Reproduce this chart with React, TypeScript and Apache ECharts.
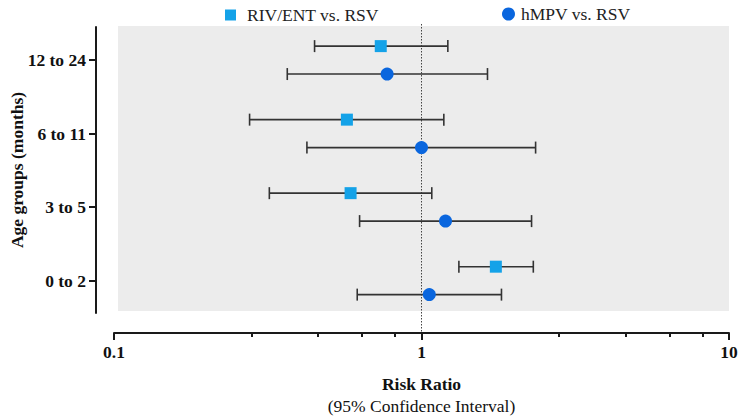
import { useEffect, useRef } from 'react';
import * as echarts from 'echarts';

// Age groups, bottom to top
const ageGroups = ['0 to 2', '3 to 5', '6 to 11', '12 to 24'];

// RIV/ENT vs. RSV: risk ratio with 95% CI
const rivEntRR = [1.745, 0.588, 0.572, 0.737];
const rivEntLow = [1.323, 0.32, 0.276, 0.449];
const rivEntHigh = [2.31, 1.08, 1.182, 1.218];

// hMPV vs. RSV: risk ratio with 95% CI
const hmpvRR = [1.06, 1.197, 1.0, 0.773];
const hmpvLow = [0.618, 0.629, 0.424, 0.366];
const hmpvHigh = [1.82, 2.28, 2.35, 1.639];

// Axis ticks
const majorTicks = [0.1, 1, 10];
const minorTicks = [0.28, 0.46, 0.64, 0.82, 2.8, 4.6, 6.4, 8.2];
const groupTicks = [0, 1, 2, 3];
const referenceRR = 1;

const FONT = '"Liberation Serif", "Times New Roman", serif';
const AXIS_COLOR = '#1a1a1a';
const BAR_COLOR = '#333333';
const RIV_COLOR = '#14a2e8';
const HMPV_COLOR = '#0a66de';
const ROW_SHIFT = 0.19;

const errorBar = (params: any, api: any) => {
  const y = api.value(2);
  const a = api.coord([api.value(0), y]);
  const b = api.coord([api.value(1), y]);
  const cap = 6;
  const style = { stroke: BAR_COLOR, lineWidth: 1.6 };
  return {
    type: 'group',
    children: [
      { type: 'line', shape: { x1: a[0], y1: a[1], x2: b[0], y2: b[1] }, style },
      { type: 'line', shape: { x1: a[0], y1: a[1] - cap, x2: a[0], y2: a[1] + cap }, style },
      { type: 'line', shape: { x1: b[0], y1: b[1] - cap, x2: b[0], y2: b[1] + cap }, style },
    ],
  };
};

const referenceLine = (params: any, api: any) => {
  const cs = params.coordSys;
  const x = api.coord([api.value(0), 0])[0];
  return {
    type: 'line',
    shape: { x1: x, y1: cs.y - 3, x2: x, y2: cs.y + cs.height + 20 },
    style: { stroke: '#444', lineWidth: 1, lineDash: [1.5, 1.5] },
  };
};

export default function App() {
  const ref = useRef<HTMLDivElement>(null);

  useEffect(() => {
    if (!ref.current) return;
    const chart = echarts.init(ref.current, null, { renderer: 'svg' });

    const rivPoints = rivEntRR.map((v, i) => [v, i + ROW_SHIFT]);
    const hmpvPoints = hmpvRR.map((v, i) => [v, i - ROW_SHIFT]);
    const rivBars = rivEntRR.map((_, i) => [rivEntLow[i], rivEntHigh[i], i + ROW_SHIFT]);
    const hmpvBars = hmpvRR.map((_, i) => [hmpvLow[i], hmpvHigh[i], i - ROW_SHIFT]);

    const labelStyle = { fontFamily: FONT, fontSize: 17.5, fontWeight: 'bold', color: '#111' };

    chart.setOption({
      animation: false,
      textStyle: { fontFamily: FONT },
      graphic: [
        {
          type: 'rect',
          z: -10,
          shape: { x: 118, y: 26, width: 611, height: 285 },
          style: { fill: '#ececec' },
          silent: true,
        },
      ],
      legend: [
        {
          data: ['RIV/ENT vs. RSV'],
          left: 220,
          top: 1,
          itemWidth: 11,
          itemHeight: 11,
          textStyle: { fontFamily: FONT, fontSize: 17.5, color: '#222', padding: [0, 0, 0, 6] },
        },
        {
          data: ['hMPV vs. RSV'],
          left: 497,
          top: 0,
          itemWidth: 13,
          itemHeight: 13,
          textStyle: { fontFamily: FONT, fontSize: 17.5, color: '#222', padding: [0, 0, 0, 1] },
        },
      ],
      grid: { left: 114, right: 13, top: 27, bottom: 106, containLabel: false, outerBoundsMode: 'none' },
      xAxis: [
        {
          type: 'log',
          logBase: 10,
          min: 0.1,
          max: 10,
          position: 'bottom',
          offset: 20,
          name: '{a|Risk Ratio}\n{b|(95% Confidence Interval)}',
          nameLocation: 'middle',
          nameGap: 40,
          nameMoveOverlap: false,
          nameTextStyle: {
            rich: {
              a: { fontFamily: FONT, fontSize: 17.5, fontWeight: 'bold', color: '#111', lineHeight: 22 },
              b: { fontFamily: FONT, fontSize: 17.5, color: '#111', lineHeight: 22 },
            },
          },
          axisLine: { show: true, onZero: false, lineStyle: { color: AXIS_COLOR, width: 2 } },
          axisTick: { show: true, customValues: majorTicks, length: 7, lineStyle: { color: AXIS_COLOR, width: 2 } },
          axisLabel: {
            customValues: majorTicks,
            margin: 10,
            ...labelStyle,
            formatter: (v: number) => String(+Number(v).toPrecision(3)),
          },
          splitLine: { show: false },
          minorTick: { show: false },
        },
        {
          type: 'log',
          logBase: 10,
          min: 0.1,
          max: 10,
          position: 'bottom',
          offset: 20,
          axisLine: { show: false, onZero: false },
          axisTick: { show: true, customValues: minorTicks, length: 4, lineStyle: { color: AXIS_COLOR, width: 2 } },
          axisLabel: { show: false },
          splitLine: { show: false },
        },
      ],
      yAxis: {
        type: 'value',
        min: -0.44,
        max: 3.45,
        offset: 18,
        name: 'Age groups (months)',
        nameLocation: 'middle',
        nameGap: 70,
        nameMoveOverlap: false,
        nameTextStyle: { fontFamily: FONT, fontSize: 17.5, fontWeight: 'bold', color: '#111' },
        axisLine: { show: true, onZero: false, lineStyle: { color: AXIS_COLOR, width: 2 } },
        axisTick: { show: true, customValues: groupTicks, length: 7, lineStyle: { color: AXIS_COLOR, width: 2 } },
        axisLabel: {
          customValues: groupTicks,
          margin: 10,
          ...labelStyle,
          formatter: (v: number) => ageGroups[Math.round(v)] ?? '',
        },
        splitLine: { show: false },
      },
      series: [
        {
          type: 'custom',
          name: 'reference',
          renderItem: referenceLine,
          data: [[referenceRR, 0]],
          encode: { x: 0, y: 1 },
          z: 1,
          silent: true,
        },
        {
          type: 'custom',
          name: 'RIV/ENT CI',
          renderItem: errorBar,
          data: rivBars,
          encode: { x: [0, 1], y: 2 },
          z: 2,
          silent: true,
        },
        {
          type: 'custom',
          name: 'hMPV CI',
          renderItem: errorBar,
          data: hmpvBars,
          encode: { x: [0, 1], y: 2 },
          z: 2,
          silent: true,
        },
        {
          type: 'scatter',
          name: 'RIV/ENT vs. RSV',
          symbol: 'rect',
          symbolSize: 12,
          itemStyle: { color: RIV_COLOR, opacity: 1 },
          data: rivPoints,
          z: 3,
        },
        {
          type: 'scatter',
          name: 'hMPV vs. RSV',
          symbol: 'circle',
          symbolSize: 13,
          itemStyle: { color: HMPV_COLOR, opacity: 1 },
          data: hmpvPoints,
          z: 3,
        },
      ],
    });

    return () => chart.dispose();
  }, []);

  return (
    <div
      ref={ref}
      style={{ position: 'fixed', left: 0, top: 0, width: 742, height: 419, background: '#fff' }}
    />
  );
}
